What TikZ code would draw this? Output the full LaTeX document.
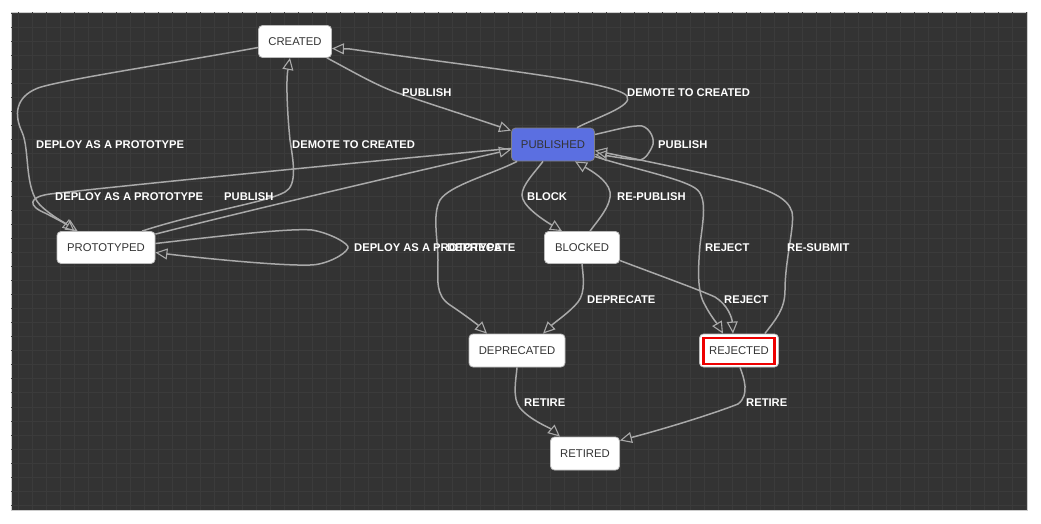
\documentclass[tikz,border=0pt]{standalone}
\usepackage{fontspec}
\setmainfont{Liberation Sans}
\usetikzlibrary{arrows.meta,calc}

\definecolor{panel}{HTML}{333333}
\definecolor{gridline}{HTML}{3B3B3B}
\definecolor{edgegray}{HTML}{A9A9A9}
\definecolor{nodeborder}{HTML}{BBBBBB}
\definecolor{nodetext}{HTML}{333333}
\definecolor{pubblue}{HTML}{5B6FE1}
\definecolor{rejred}{HTML}{EE0000}

\tikzset{
  statebox/.style={draw=nodeborder, line width=0.8pt, fill=white, rounded corners=4pt,
    text=nodetext, font=\fontsize{11.3}{13}\selectfont, inner sep=0pt, minimum height=32pt,
    text height=8pt, text depth=0pt},
  activebox/.style={statebox, fill=pubblue, draw=gray},
  edge/.style={draw=edgegray, line width=1.5pt,
    -{Triangle[open, length=12pt, width=11pt, line width=1.1pt]}},
  lbl/.style={text=white, font=\bfseries\fontsize{11.2}{13}\selectfont, inner sep=0pt, anchor=west,
    text height=8pt, text depth=0pt}
}

\begin{document}
\begin{tikzpicture}[x=1pt, y=-1pt]
\useasboundingbox (0,0) rectangle (1041,523);

% canvas with faint grid
\fill[white] (0,0) rectangle (1041,523);
\filldraw[fill=panel, draw=gray!40, line width=0.6pt] (11,12) rectangle (1027,510);
\begin{scope}
  \clip (11,12) rectangle (1027,510);
  \foreach \gx in {0,...,72} {
    \draw[gridline, line width=0.8pt] (18+14*\gx,12) -- (18+14*\gx,510);
  }
  \foreach \gy in {0,...,35} {
    \draw[gridline, line width=0.8pt] (11,13+14.07*\gy) -- (1027,13+14.07*\gy);
  }
\end{scope}

% states
\node[statebox, minimum width=73pt] (created) at (295,41.5) {CREATED};
\node[activebox, minimum width=83pt, minimum height=33pt] (published) at (553,144.5) {PUBLISHED};
\node[statebox, minimum width=98pt] (prototyped) at (106,247.5) {PROTOTYPED};
\node[statebox, minimum width=75pt] (blocked) at (582,247.5) {BLOCKED};
\node[statebox, minimum width=96pt, minimum height=33pt] (deprecated) at (517,350.5) {DEPRECATED};
\node[statebox, minimum width=79pt, minimum height=33pt] (rejected) at (739,350.5) {REJECTED};
\node[draw=rejred, line width=2.6pt, minimum width=71pt, minimum height=26pt, inner sep=0pt] (rejmark) at (739,351) {};
\node[statebox, minimum width=69pt, minimum height=33pt] (retired) at (585,453.5) {RETIRED};

% transitions
% created -> published
\draw[edge] ($(created.south east)+(-5,0)$) .. controls (350,70) and (375,85) .. (398,93)
  .. controls (430,104) and (480,120) .. ($(published.north west)+(0,3)$);
% published -> created
\draw[edge] ($(published.north)+(24,0)$) .. controls (595,118) and (634,106) .. (627,96)
  .. controls (615,82) and (500,70) .. (350,49) -- ($(created.east)+(0,7)$);
% published -> published
\draw[edge] ($(published.east)+(0,-10)$) .. controls (615,130) and (632,125) .. (642,126)
  .. controls (650,128) and (656,140) .. (652,147) .. controls (648,155) and (645,159) .. (640,160)
  .. controls (625,159) and (610,156) .. ($(published.east)+(0,10)$);
% created -> prototyped
\draw[edge] ($(created.west)+(0,6)$) .. controls (180,62) and (60,80) .. (38,88)
  .. controls (15,97) and (14,115) .. (22,132) .. controls (30,150) and (24,188) .. (40,205)
  .. controls (50,215) and (65,223) .. ($(prototyped.north west)+(18,0)$);
% prototyped -> created
\draw[edge] ($(prototyped.north)+(36,0)$) .. controls (200,212) and (265,203) .. (285,192)
  .. controls (298,185) and (293,160) .. (290,140) .. controls (287,110) and (286,80) .. ($(created.south)+(-5,0)$);
% published -> prototyped
\draw[edge] ($(published.west)+(0,4)$) .. controls (400,158) and (100,188) .. (50,194)
  .. controls (28,197) and (28,206) .. (45,213) .. controls (55,218) and (66,224) .. ($(prototyped.north west)+(21,0)$);
% prototyped -> published
\draw[edge] ($(prototyped.north east)+(0,3)$) .. controls (250,210) and (400,175) .. ($(published.west)+(0,5)$);
% prototyped -> prototyped
\draw[edge] ($(prototyped.east)+(0,-4)$) .. controls (220,236) and (290,228) .. (312,230)
  .. controls (330,233) and (350,244) .. (348,248) .. controls (345,255) and (325,265) .. (310,265)
  .. controls (280,266) and (200,258) .. ($(prototyped.east)+(0,5)$);
% published -> deprecated
\draw[edge] ($(published.south west)+(6,0)$) .. controls (490,175) and (450,185) .. (440,200)
  .. controls (432,215) and (438,240) .. (438,260) .. controls (438,280) and (435,295) .. (450,305)
  .. controls (465,315) and (478,325) .. ($(deprecated.north)+(-30,0)$);
% published -> blocked
\draw[edge] ($(published.south)+(-10,0)$) .. controls (535,172) and (522,185) .. (522,195)
  .. controls (522,205) and (540,218) .. ($(blocked.north)+(-20,0)$);
% blocked -> published
\draw[edge] ($(blocked.north)+(8,0)$) .. controls (598,220) and (612,205) .. (610,192)
  .. controls (608,180) and (590,170) .. ($(published.south)+(22,0)$);
% blocked -> deprecated
\draw[edge] (blocked.south) .. controls (583,275) and (586,292) .. (578,302)
  .. controls (570,312) and (555,322) .. ($(deprecated.north)+(26,0)$);
% blocked -> rejected
\draw[edge] ($(blocked.east)+(0,13)$) .. controls (650,272) and (700,290) .. (715,297)
  .. controls (728,305) and (732,318) .. ($(rejected.north)+(-6,0)$);
% published -> rejected
\draw[edge] ($(published.east)+(0,12)$) .. controls (630,168) and (680,178) .. (695,188)
  .. controls (708,196) and (703,220) .. (700,245) .. controls (698,270) and (697,292) .. (705,305)
  .. controls (710,315) and (718,325) .. ($(rejected.north)+(-16,0)$);
% rejected -> published
\draw[edge] ($(rejected.north east)+(-14,0)$) .. controls (775,320) and (785,310) .. (785,290)
  .. controls (785,260) and (795,225) .. (792,212) .. controls (788,198) and (770,190) .. (740,182)
  .. controls (700,172) and (640,160) .. ($(published.east)+(0,6)$);
% deprecated -> retired
\draw[edge] (deprecated.south) .. controls (516,380) and (512,398) .. (520,408)
  .. controls (530,420) and (550,428) .. ($(retired.north)+(-25,0)$);
% rejected -> retired
\draw[edge] ($(rejected.south)+(1,0)$) .. controls (744,378) and (750,395) .. (738,404)
  .. controls (710,415) and (660,430) .. ($(retired.east)+(0,-13)$);

% transition labels
\node[lbl] (t1) at (402,92.5) {PUBLISH};
\node[lbl] (t2) at (627,92.5) {DEMOTE TO CREATED};
\node[lbl] (t3) at (658,144.5) {PUBLISH};
\node[lbl] (t4) at (36,144.5) {DEPLOY AS A PROTOTYPE};
\node[lbl] (t5) at (292,144.5) {DEMOTE TO CREATED};
\node[lbl] (t6) at (55,196.5) {DEPLOY AS A PROTOTYPE};
\node[lbl] (t7) at (224,196.5) {PUBLISH};
\node[lbl] (t8) at (527,196.5) {BLOCK};
\node[lbl] (t9) at (617,196.5) {RE-PUBLISH};
\node[lbl] (t10) at (354,247.5) {DEPLOY AS A PROTOTYPE};
\node[lbl] (t11) at (447,247.5) {DEPRECATE};
\node[lbl] (t12) at (705,247.5) {REJECT};
\node[lbl] (t13) at (787,247.5) {RE-SUBMIT};
\node[lbl] (t14) at (587,299.5) {DEPRECATE};
\node[lbl] (t15) at (724,299.5) {REJECT};
\node[lbl] (t16) at (524,402.5) {RETIRE};
\node[lbl] (t17) at (746,402.5) {RETIRE};
\end{tikzpicture}
\end{document}
